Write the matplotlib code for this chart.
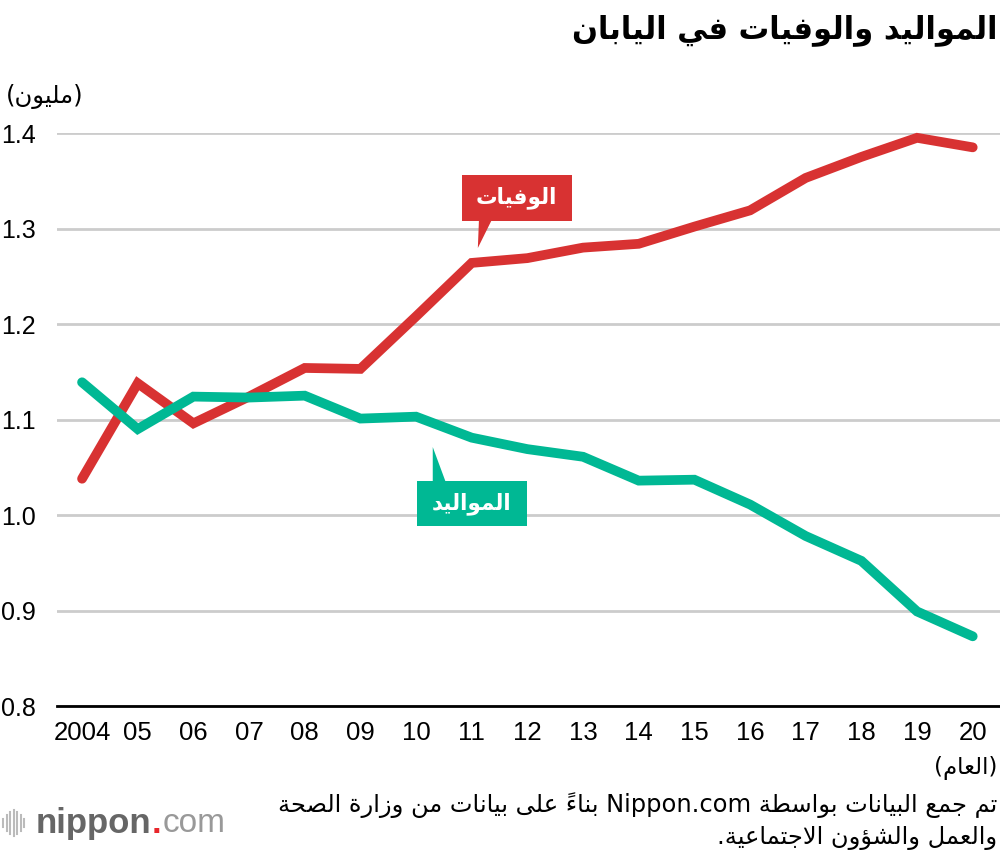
import re
import numpy as np
import matplotlib
matplotlib.use("Agg")
import matplotlib.pyplot as plt
from matplotlib.patches import Rectangle, Polygon
from matplotlib.lines import Line2D

# data (million people)
years = np.arange(2004, 2021)
year_labels = ["2004", "05", "06", "07", "08", "09", "10", "11", "12",
               "13", "14", "15", "16", "17", "18", "19", "20"]
deaths = [1.038, 1.138, 1.096, 1.124, 1.154, 1.153, 1.208, 1.264, 1.269,
          1.280, 1.284, 1.302, 1.319, 1.353, 1.375, 1.395, 1.385]
births = [1.139, 1.090, 1.124, 1.123, 1.125, 1.101, 1.103, 1.081, 1.069,
          1.061, 1.036, 1.037, 1.011, 0.978, 0.952, 0.899, 0.873]
y_ticks = [0.8, 0.9, 1.0, 1.1, 1.2, 1.3, 1.4]

title = "المواليد والوفيات في اليابان"
unit_label = "(مليون)"
year_label = "(العام)"
deaths_label = "الوفيات"
births_label = "المواليد"
source_1 = "تم جمع البيانات بواسطة Nippon.com بناءً على بيانات من وزارة الصحة"
source_2 = "والعمل والشؤون الاجتماعية."

RED = "#d83232"
GREEN = "#00b894"

### matplotlib does no arabic shaping, so map letters to presentation forms by hand
# letter -> (first presentation form, 0 none / 1 right / 2 dual joining)
FORMS = {
    "\u0621": (0xFE80, 0), "\u0622": (0xFE81, 1), "\u0623": (0xFE83, 1),
    "\u0624": (0xFE85, 1), "\u0625": (0xFE87, 1), "\u0626": (0xFE89, 2),
    "\u0627": (0xFE8D, 1), "\u0628": (0xFE8F, 2), "\u0629": (0xFE93, 1),
    "\u062A": (0xFE95, 2), "\u062B": (0xFE99, 2), "\u062C": (0xFE9D, 2),
    "\u062D": (0xFEA1, 2), "\u062E": (0xFEA5, 2), "\u062F": (0xFEA9, 1),
    "\u0630": (0xFEAB, 1), "\u0631": (0xFEAD, 1), "\u0632": (0xFEAF, 1),
    "\u0633": (0xFEB1, 2), "\u0634": (0xFEB5, 2), "\u0635": (0xFEB9, 2),
    "\u0636": (0xFEBD, 2), "\u0637": (0xFEC1, 2), "\u0638": (0xFEC5, 2),
    "\u0639": (0xFEC9, 2), "\u063A": (0xFECD, 2), "\u0641": (0xFED1, 2),
    "\u0642": (0xFED5, 2), "\u0643": (0xFED9, 2), "\u0644": (0xFEDD, 2),
    "\u0645": (0xFEE1, 2), "\u0646": (0xFEE5, 2), "\u0647": (0xFEE9, 2),
    "\u0648": (0xFEED, 1), "\u0649": (0xFEEF, 1), "\u064A": (0xFEF1, 2),
}
LAM_ALEF = {"\u0622": 0xFEF5, "\u0623": 0xFEF7, "\u0625": 0xFEF9, "\u0627": 0xFEFB}
MARKS = set(chr(c) for c in range(0x064B, 0x0653))
MIRROR = {"(": ")", ")": "("}


def shape(text):
    chars = list(text)
    n = len(chars)
    out = []

    def prev_joins(k):
        j = k - 1
        while j >= 0 and chars[j] in MARKS:
            j -= 1
        return j >= 0 and chars[j] in FORMS and FORMS[chars[j]][1] == 2

    def next_idx(k):
        j = k + 1
        while j < n and chars[j] in MARKS:
            j += 1
        return j

    k = 0
    while k < n:
        c = chars[k]
        if c not in FORMS:
            out.append(c)
            k += 1
            continue
        base, jt = FORMS[c]
        p = prev_joins(k)
        j = next_idx(k)
        nx = chars[j] if j < n else None
        if c == "\u0644" and nx in LAM_ALEF:
            out.append(chr(LAM_ALEF[nx] + (1 if p else 0)))
            k = j + 1
            continue
        nj = jt == 2 and nx in FORMS and FORMS[nx][1] > 0
        if jt == 0:
            out.append(chr(base))
        elif jt == 1:
            out.append(chr(base + (1 if p else 0)))
        else:
            out.append(chr(base + {(False, False): 0, (True, False): 1,
                                   (False, True): 2, (True, True): 3}[(p, nj)]))
        k += 1
    return "".join(out)


def visual(text):
    # rtl runs get reversed, latin runs (Nippon.com) are kept as they are
    parts = re.split(r"([A-Za-z0-9]+(?:\.[A-Za-z0-9]+)*)", text)
    out = []
    for idx, part in enumerate(parts):
        if idx % 2:
            out.append(part)
            continue
        out.append("".join(MIRROR.get(c, c) for c in reversed(shape(part))))
    return "".join(reversed(out))


plt.rcParams["font.family"] = ["Liberation Sans", "DejaVu Sans"]
AR = ["DejaVu Sans"]

fig = plt.figure(figsize=(10, 8.56), dpi=100)
ax = fig.add_axes([0.057, 0.1752, 0.943, 0.6694])

ax.plot(years, deaths, color=RED, lw=7, solid_capstyle="round",
        solid_joinstyle="miter", clip_on=False, zorder=3)
ax.plot(years, births, color=GREEN, lw=7, solid_capstyle="round",
        solid_joinstyle="miter", clip_on=False, zorder=3)

ax.set_xlim(2003.55, 2020.49)
ax.set_ylim(0.8, 1.4)
ax.set_yticks(y_ticks)
ax.set_yticklabels([f"{v:.1f}" for v in y_ticks])
ax.set_xticks(years)
ax.set_xticklabels(year_labels)
ax.tick_params(axis="y", length=0, pad=15, labelsize=18)
ax.tick_params(axis="x", length=0, pad=11, labelsize=18.5)
ax.grid(axis="y", color="#cccccc", lw=2)
ax.set_axisbelow(True)
for s in ["top", "right", "left"]:
    ax.spines[s].set_visible(False)
ax.spines["bottom"].set_linewidth(2)
ax.spines["bottom"].set_color("black")
ax.spines["bottom"].set_zorder(4)

# callout boxes
ax.add_patch(Rectangle((2010.82, 1.3079), 1.98, 0.0481, color=RED, zorder=5, lw=0))
ax.add_patch(Polygon([(2011.13, 1.309), (2011.36, 1.309), (2011.11, 1.2796)],
                     closed=True, color=RED, zorder=5, lw=0))
ax.text(2011.81, 1.332, visual(deaths_label), color="white", fontsize=15.5,
        fontweight="bold", family=AR, ha="center", va="center", zorder=6)

ax.add_patch(Rectangle((2010.015, 0.9885), 1.975, 0.0471, color=GREEN, zorder=5, lw=0))
ax.add_patch(Polygon([(2010.30, 1.035), (2010.53, 1.035), (2010.30, 1.0712)],
                     closed=True, color=GREEN, zorder=5, lw=0))
ax.text(2011.0, 1.012, visual(births_label), color="white", fontsize=15.5,
        fontweight="bold", family=AR, ha="center", va="center", zorder=6)

# texts around the plot
fig.text(0.997, 0.965, visual(title), ha="right", va="center", fontsize=22,
         fontweight="bold", family=AR)
fig.text(0.006, 0.887, visual(unit_label), ha="left", va="center", fontsize=17.5,
         family=AR)
fig.text(0.997, 0.103, visual(year_label), ha="right", va="center", fontsize=16.5,
         family=AR)
fig.text(0.997, 0.059, visual(source_1), ha="right", va="center", fontsize=17.4,
         family=AR)
fig.text(0.997, 0.021, visual(source_2), ha="right", va="center", fontsize=17.4,
         family=AR)

# nippon.com logo
bar_x = [0.003, 0.0065, 0.010, 0.0135, 0.017, 0.0205, 0.024]
bar_h = [0.010, 0.018, 0.026, 0.030, 0.026, 0.018, 0.010]
for bx, bh in zip(bar_x, bar_h):
    fig.add_artist(Line2D([bx, bx], [0.0385 - bh / 2, 0.0385 + bh / 2],
                          color="#bbbbbb", lw=1.5))
t = fig.text(0.036, 0.038, "nippon", ha="left", va="center", fontsize=25,
             fontweight="bold", color="#666666")
fig.canvas.draw()
bb = t.get_window_extent()
x1 = bb.x1 / fig.bbox.width
fig.text(x1, 0.038, ".", ha="left", va="center", fontsize=25,
         fontweight="bold", color="#e8262b")
fig.text(x1 + 0.011, 0.038, "com", ha="left", va="center", fontsize=24,
         color="#999999")

fig.savefig("out.png", dpi=100)
